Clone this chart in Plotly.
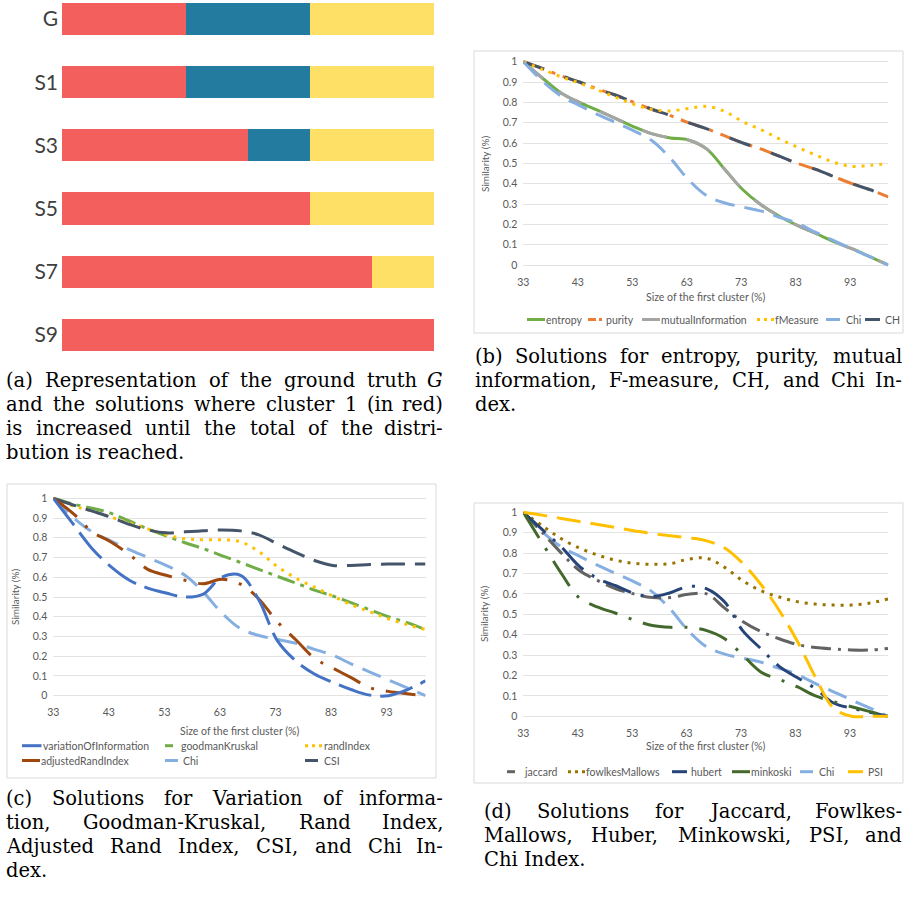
import plotly.graph_objects as go

W, H = 905, 898

# ---------------- data ----------------
# panel (a)
solutions = ["G", "S1", "S3", "S5", "S7", "S9"]
cluster1 = [33.3, 33.3, 50.0, 66.7, 83.3, 100.0]
cluster2 = [33.3, 33.3, 16.7, 0.0, 0.0, 0.0]
cluster3 = [33.3, 33.3, 33.3, 33.3, 16.7, 0.0]

# x values: size of the first cluster (%)
size_first = [33, 36.7, 40, 43.3, 46.7, 50, 53.3, 56.7, 60, 63.3, 66.7,
              70, 73.3, 76.7, 80, 83.3, 86.7, 90, 93.3, 96.7, 100]
x_ticks = [33, 43, 53, 63, 73, 83, 93]

# panel (b)
entropy = [1.0, 0.915, 0.845, 0.80, 0.76, 0.72, 0.68, 0.645, 0.625, 0.615, 0.57,
           0.47, 0.37, 0.295, 0.24, 0.195, 0.155, 0.115, 0.08, 0.04, 0.0]
purity = [1.0, 0.965, 0.93, 0.90, 0.865, 0.835, 0.80, 0.765, 0.735, 0.70, 0.67,
          0.635, 0.60, 0.57, 0.535, 0.50, 0.47, 0.435, 0.40, 0.37, 0.335]
mutualInformation = [1.0, 0.915, 0.845, 0.80, 0.76, 0.72, 0.68, 0.645, 0.625, 0.615, 0.57,
                     0.47, 0.37, 0.295, 0.24, 0.195, 0.155, 0.115, 0.08, 0.04, 0.0]
fMeasure = [1.0, 0.96, 0.925, 0.895, 0.86, 0.825, 0.79, 0.765, 0.758, 0.77, 0.78,
            0.755, 0.705, 0.665, 0.62, 0.58, 0.54, 0.505, 0.485, 0.49, 0.50]
chi = [1.0, 0.90, 0.83, 0.785, 0.74, 0.70, 0.66, 0.61, 0.525, 0.42, 0.34,
       0.305, 0.285, 0.265, 0.235, 0.205, 0.16, 0.12, 0.08, 0.04, 0.0]
CH = [1.0, 0.965, 0.93, 0.90, 0.865, 0.835, 0.80, 0.765, 0.735, 0.70, 0.67,
      0.635, 0.60, 0.57, 0.535, 0.50, 0.47, 0.435, 0.40, 0.37, 0.335]

# panel (c)
variationOfInformation = [1.0, 0.865, 0.745, 0.655, 0.585, 0.545, 0.52, 0.50, 0.515, 0.60, 0.61,
                          0.485, 0.28, 0.175, 0.11, 0.068, 0.03, 0.003, 0.0, 0.03, 0.075]
goodmanKruskal = [1.0, 0.97, 0.95, 0.925, 0.885, 0.845, 0.81, 0.775, 0.745, 0.71, 0.675,
                  0.64, 0.605, 0.57, 0.535, 0.505, 0.47, 0.435, 0.40, 0.37, 0.335]
randIndex = [1.0, 0.96, 0.935, 0.905, 0.875, 0.845, 0.815, 0.795, 0.79, 0.79, 0.78,
             0.73, 0.655, 0.595, 0.55, 0.505, 0.46, 0.425, 0.39, 0.36, 0.335]
adjustedRandIndex = [1.0, 0.92, 0.83, 0.78, 0.715, 0.64, 0.61, 0.585, 0.567, 0.59, 0.565,
                     0.49, 0.375, 0.282, 0.19, 0.14, 0.09, 0.04, 0.022, 0.01, 0.0]
CSI = [1.0, 0.965, 0.935, 0.905, 0.868, 0.84, 0.825, 0.83, 0.835, 0.84, 0.835,
       0.815, 0.77, 0.725, 0.685, 0.66, 0.66, 0.665, 0.667, 0.667, 0.667]

# panel (d)
jaccard = [1.0, 0.895, 0.80, 0.715, 0.665, 0.625, 0.60, 0.582, 0.582, 0.598, 0.60,
           0.53, 0.465, 0.415, 0.38, 0.352, 0.337, 0.33, 0.325, 0.325, 0.333]
fowlkesMallows = [1.0, 0.93, 0.87, 0.825, 0.79, 0.765, 0.75, 0.745, 0.748, 0.77, 0.775,
                  0.73, 0.665, 0.615, 0.585, 0.562, 0.55, 0.545, 0.545, 0.555, 0.575]
hubert = [1.0, 0.91, 0.83, 0.735, 0.675, 0.64, 0.603, 0.587, 0.606, 0.636, 0.625,
          0.56, 0.42, 0.33, 0.245, 0.19, 0.135, 0.065, 0.04, 0.02, 0.0]
minkoski = [1.0, 0.84, 0.70, 0.58, 0.535, 0.505, 0.472, 0.445, 0.436, 0.436, 0.42,
            0.38, 0.30, 0.216, 0.181, 0.145, 0.10, 0.072, 0.047, 0.023, 0.0]
PSI = [1.0, 0.985, 0.97, 0.955, 0.94, 0.925, 0.91, 0.895, 0.885, 0.875, 0.86,
       0.825, 0.75, 0.645, 0.52, 0.37, 0.19, 0.04, 0.0, 0.0, 0.0]

# captions
cap_a = ["(a) Representation of the ground truth <i>G</i>",
         "and the solutions where cluster 1 (in red)",
         "is increased until the total of the distri-",
         "bution is reached."]
cap_b = ["(b) Solutions for entropy, purity, mutual",
         "information, F-measure, CH, and Chi In-",
         "dex."]
cap_c = ["(c) Solutions for Variation of informa-",
         "tion, Goodman-Kruskal, Rand Index,",
         "Adjusted Rand Index, CSI, and Chi In-",
         "dex."]
cap_d = ["(d) Solutions for Jaccard, Fowlkes-",
         "Mallows, Huber, Minkowski, PSI, and",
         "Chi Index."]

# ---------------- styles ----------------
C_GREEN = "#70AD47"; C_ORANGE = "#ED7D31"; C_GRAY = "#A5A5A5"; C_GOLD = "#FFC000"
C_CHI = "#85AFE0"; C_NAVY = "#44546A"; C_BLUE = "#4472C4"; C_BROWN = "#9E480E"
C_DGRAY = "#636363"; C_OLIVE = "#997300"; C_DBLUE = "#264478"; C_DGREEN = "#43682B"

TXT = "#595959"
SANS = "Lato"
SERIF = "DejaVu Serif"

fig = go.Figure()

# ---------------- panel (a) bars ----------------
for vals, col in [(cluster1, "#F25F5C"), (cluster2, "#247BA0"), (cluster3, "#FFE066")]:
    fig.add_trace(go.Bar(x=vals, y=solutions, orientation="h", marker_color=col,
                         marker_line_width=0, width=0.51, showlegend=False,
                         xaxis="x", yaxis="y", hoverinfo="skip"))

# ---------------- line panels ----------------
def line(n, y, color, dash, width=3):
    fig.add_trace(go.Scatter(x=size_first, y=y, mode="lines",
                             line=dict(color=color, dash=dash, width=width, shape="spline", smoothing=1.0),
                             showlegend=False, xaxis=f"x{n}", yaxis=f"y{n}", hoverinfo="skip"))

# (b)
line(2, entropy, C_GREEN, "solid")
line(2, mutualInformation, C_GRAY, "26px,20px")
line(2, purity, C_ORANGE, "22px,8px,4px,8px")
line(2, CH, C_NAVY, "22px,22px")
line(2, fMeasure, C_GOLD, "3px,6px")
line(2, chi, C_CHI, "20px,10px")

# (c)
line(3, chi, C_CHI, "20px,10px")
line(3, goodmanKruskal, C_GREEN, "18px,6px,4px,6px")
line(3, randIndex, C_GOLD, "3px,6px")
line(3, CSI, C_NAVY, "24px,10px")
line(3, adjustedRandIndex, C_BROWN, "30px,12px,3px,12px")
line(3, variationOfInformation, C_BLUE, "34px,9px")

# (d)
line(4, chi, C_CHI, "20px,10px")
line(4, fowlkesMallows, C_OLIVE, "3px,6px")
line(4, jaccard, C_DGRAY, "20px,7px,3px,7px")
line(4, hubert, C_DBLUE, "30px,10px,3px,10px")
line(4, minkoski, C_DGREEN, "30px,12px,3px,12px")
line(4, PSI, C_GOLD, "24px,10px")

layout = dict(width=W, height=H, margin=dict(l=0, r=0, t=0, b=0, pad=0, autoexpand=False),
              paper_bgcolor="white", plot_bgcolor="white", barmode="stack",
              showlegend=False, font=dict(family=SANS, color=TXT))

# panel (a) axes
layout["xaxis"] = dict(domain=[62 / W, 434 / W], range=[0, 100], visible=False, anchor="y",
                       automargin=False)
layout["yaxis"] = dict(domain=[1 - 352 / H, 1], type="category", categoryarray=solutions,
                       range=[5.27, -0.30], showgrid=False, zeroline=False, showline=False,
                       ticks="", automargin=False, ticklabelstandoff=3,
                       tickfont=dict(family=SANS, size=21, color="#404040"), anchor="x")

def axes(n, x0, x1, ytop, ybot):
    pad = 3
    span = ybot - ytop
    layout[f"xaxis{n}"] = dict(domain=[x0 / W, x1 / W], range=[33, 100], tickvals=x_ticks,
                               showgrid=False, zeroline=False, showline=False, ticks="",
                               automargin=False,
                               tickfont=dict(family=SANS, size=10.5, color=TXT),
                               ticklabelstandoff=6, anchor=f"y{n}")
    layout[f"yaxis{n}"] = dict(domain=[1 - (ybot + pad) / H, 1 - (ytop - pad) / H],
                               range=[-pad / span, 1 + pad / span], tick0=0, dtick=0.1,
                               showgrid=True, gridcolor="#E2E2E2", gridwidth=1,
                               zeroline=False, showline=False, ticks="", automargin=False,
                               tickfont=dict(family=SANS, size=10.5, color=TXT),
                               ticklabelstandoff=5, anchor=f"x{n}")

axes(2, 523.3, 888.3, 61.7, 265.0)
axes(3, 53.3, 425.5, 498.3, 695.7)
axes(4, 523.3, 888.0, 512.3, 716.3)

fig.update_layout(**layout)

shapes = []
annotations = []

def px(x): return x / W
def py(y): return 1 - y / H

# chart frames
for (x0, y0, x1, y1) in [(474, 51, 903, 333), (7, 484, 436, 778), (474, 503, 903, 783)]:
    shapes.append(dict(type="rect", xref="paper", yref="paper", x0=px(x0), x1=px(x1),
                       y0=py(y1), y1=py(y0), line=dict(color="#D9D9D9", width=1),
                       fillcolor="rgba(0,0,0,0)", layer="below"))

def text(x, y, s, size=10.5, anchor="left", color=TXT, family=SANS, angle=0):
    annotations.append(dict(x=px(x), y=py(y), xref="paper", yref="paper", text=s,
                            showarrow=False, xanchor=anchor, yanchor="middle", textangle=angle,
                            borderpad=0, font=dict(family=family, size=size, color=color)))

# axis titles
for (cx, ty, yx, cy) in [(705.8, 297, 485, 163), (239.4, 731, 15, 597), (705.6, 745.7, 484, 614)]:
    text(cx, ty, "Size of the first cluster (%)", size=10.5, anchor="center")
    text(yx, cy, "Similarity (%)", size=10, anchor="center", angle=-90)

# legends (drawn manually to match Excel's compact legend)
def leg(x0, x1, y, color, dash, label, tx):
    shapes.append(dict(type="line", xref="paper", yref="paper", x0=px(x0), x1=px(x1),
                       y0=py(y), y1=py(y), line=dict(color=color, width=3, dash=dash)))
    text(tx, y, label)

# (b)
yb = 319.5
leg(527, 545, yb, C_GREEN, "solid", "entropy", 545)
leg(588, 605, yb, C_ORANGE, "8px,3px,3px,3px", "purity", 605)
leg(642, 660, yb, C_GRAY, "solid", "mutualInformation", 660)
leg(757, 774, yb, C_GOLD, "3px,4px", "fMeasure", 774)
leg(826, 840, yb, C_CHI, "solid", "Chi", 845)
leg(865, 880, yb, C_NAVY, "solid", "CH", 884)

# (c)
r1, r2 = 745.7, 760.5
leg(22, 41.5, r1, C_BLUE, "solid", "variationOfInformation", 41.5)
leg(165, 176, r1, C_GREEN, "8px,3px,3px,3px", "goodmanKruskal", 180)
leg(305, 323, r1, C_GOLD, "3px,4px", "randIndex", 323)
leg(22, 40, r2, C_BROWN, "solid", "adjustedRandIndex", 40)
leg(165, 178, r2, C_CHI, "solid", "Chi", 181.5)
leg(305, 318, r2, C_NAVY, "solid", "CSI", 323)

# (d)
yd = 771.7
leg(507, 518, yd, C_DGRAY, "8px,3px,3px,3px", "jaccard", 523)
leg(568, 585, yd, C_OLIVE, "3px,4px", "fowlkesMallows", 585)
leg(672, 687, yd, C_DBLUE, "solid", "hubert", 690)
leg(732, 750, yd, C_DGREEN, "solid", "minkoski", 750)
leg(800, 813, yd, C_CHI, "solid", "Chi", 818)
leg(848, 863, yd, C_GOLD, "solid", "PSI", 867)

# ---------------- captions (justified, word by word) ----------------
CAP = 19.5
# approximate advance widths of DejaVu Serif (fraction of em)
CW = {' ': .318, 'a': .596, 'b': .640, 'c': .560, 'd': .640, 'e': .592, 'f': .370, 'g': .640,
      'h': .644, 'i': .320, 'j': .310, 'k': .606, 'l': .320, 'm': .948, 'n': .644, 'o': .602,
      'p': .640, 'q': .640, 'r': .478, 's': .513, 't': .402, 'u': .644, 'v': .565, 'w': .856,
      'x': .564, 'y': .565, 'z': .527, 'A': .722, 'B': .735, 'C': .765, 'D': .802, 'E': .730,
      'F': .694, 'G': .799, 'H': .872, 'I': .395, 'J': .401, 'K': .747, 'L': .664, 'M': 1.024,
      'N': .875, 'O': .820, 'P': .673, 'R': .753, 'S': .685, 'T': .667, 'V': .722, 'W': 1.028,
      '(': .390, ')': .390, ',': .318, '-': .338, '.': .318, '1': .636}

def wwidth(w):
    w = w.replace("<i>", "").replace("</i>", "")
    return sum(CW.get(ch, .6) for ch in w) * CAP

def caption(x_left, x_right, y0, lines):
    for i, s in enumerate(lines):
        y = y0 + 24 * i
        words = s.split(" ")
        if i == len(lines) - 1 or len(words) < 2:
            text(x_left, y, s, size=CAP, color="black", family=SERIF)
            continue
        widths = [wwidth(w) for w in words]
        gap = (x_right - x_left - sum(widths)) / (len(words) - 1)
        xpos = x_left
        for j, (w, ww) in enumerate(zip(words, widths)):
            if j == len(words) - 1:
                text(x_right, y, w, size=CAP, color="black", family=SERIF, anchor="right")
            else:
                text(xpos, y, w, size=CAP, color="black", family=SERIF)
            xpos += ww + gap

caption(5, 444, 380, cap_a)
caption(474, 903, 356, cap_b)
caption(5, 444, 798, cap_c)
caption(483, 903, 811, cap_d)

fig.update_layout(shapes=shapes, annotations=annotations)
fig.write_html("out.html")
